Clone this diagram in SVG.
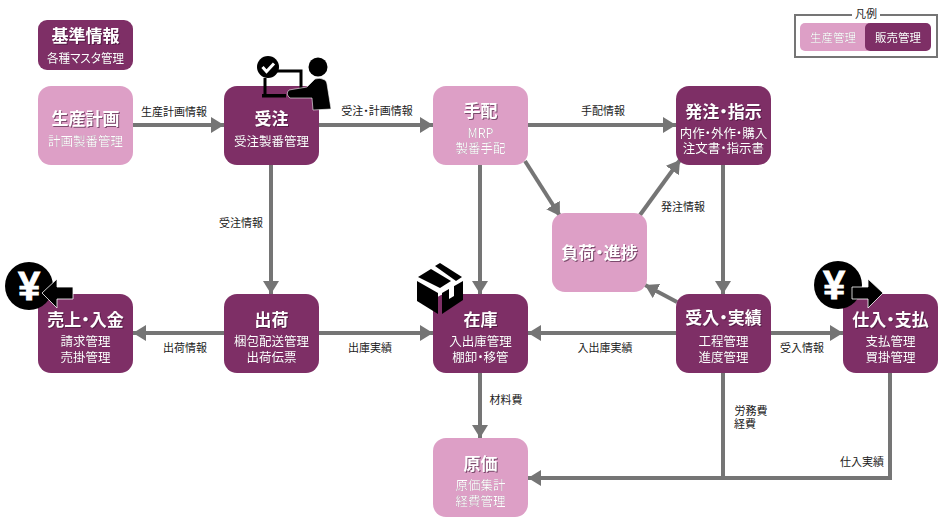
<svg xmlns="http://www.w3.org/2000/svg" width="945" height="525" viewBox="0 0 945 525">
<style>
text{font-family:"Noto Sans CJK JP","Noto Sans",sans-serif;font-feature-settings:"palt";text-anchor:middle}
.d{fill:#7e2f66}.l{fill:#dd9fc6}
.t{font-size:17px;font-weight:700;fill:#fff;filter:drop-shadow(1px 1px .6px rgba(60,20,50,.6))}
.s{font-size:12.500px;fill:#fff;filter:drop-shadow(.7px .7px .5px rgba(60,20,50,.55))}
.c{font-size:11px;fill:#222}
.y{font-family:"Liberation Sans",sans-serif;font-size:40px;font-weight:700;fill:#fff;stroke:#fff;stroke-width:.8;font-feature-settings:normal}
.ln{fill:none;stroke:#757575;stroke-width:4}
</style>
<defs>
<marker id="a" markerUnits="userSpaceOnUse" markerWidth="14" markerHeight="16" refX="13" refY="8" orient="auto"><path d="M0 0L13 8L0 16z" fill="#757575"/></marker>
</defs>
<rect width="945" height="525" fill="#fff"/>
<g id="connectors">
<path class="ln" marker-end="url(#a)" d="M133 125H224"/>
<path class="ln" marker-end="url(#a)" d="M319 125H433"/>
<path class="ln" marker-end="url(#a)" d="M528 125H676"/>
<path class="ln" marker-end="url(#a)" d="M271 165V294"/>
<path class="ln" marker-end="url(#a)" d="M480 165V294"/>
<path class="ln" marker-end="url(#a)" d="M525 161L560 216"/>
<path class="ln" marker-end="url(#a)" d="M640 215L680 160"/>
<path class="ln" marker-end="url(#a)" d="M723 165V294"/>
<path class="ln" marker-end="url(#a)" d="M677 302L645 285"/>
<path class="ln" marker-end="url(#a)" d="M676 333H528"/>
<path class="ln" marker-end="url(#a)" d="M771 333H843"/>
<path class="ln" marker-end="url(#a)" d="M224 333H133"/>
<path class="ln" marker-end="url(#a)" d="M319 333H433"/>
<path class="ln" marker-end="url(#a)" d="M480 373V438"/>
<path class="ln" marker-end="url(#a)" d="M890 373V478H528"/>
<path class="ln" d="M723 373V478"/>
<text class="c" x="174" y="116">生産計画情報</text>
<text class="c" x="377" y="115">受注・計画情報</text>
<text class="c" x="603" y="115">手配情報</text>
<text class="c" x="241" y="227">受注情報</text>
<text class="c" x="683" y="211">発注情報</text>
<text class="c" x="185" y="352">出荷情報</text>
<text class="c" x="370" y="352">出庫実績</text>
<text class="c" x="605" y="352">入出庫実績</text>
<text class="c" x="802" y="352">受入情報</text>
<text class="c" x="506" y="404">材料費</text>
<text class="c" x="751" y="415">労務費</text>
<text class="c" x="745" y="428">経費</text>
<text class="c" x="862" y="466">仕入実績</text>
</g>
<g id="kijun"><rect class="d" x="38" y="20" width="95" height="50" rx="9"/><text class="t" x="85.500" y="42">基準情報</text><text class="s" x="85.500" y="63" textLength="77" lengthAdjust="spacingAndGlyphs">各種マスタ管理</text></g>
<g id="seisan"><rect class="l" x="38" y="86" width="95" height="79" rx="13"/><text class="t" x="85.500" y="125">生産計画</text><text class="s" x="85.500" y="146">計画製番管理</text></g>
<g id="juchu"><rect class="d" x="224" y="86" width="95" height="79" rx="13"/><text class="t" x="271.500" y="125">受注</text><text class="s" x="271.500" y="146">受注製番管理</text></g>
<g id="tehai"><rect class="l" x="433" y="86" width="95" height="79" rx="13"/><text class="t" x="480.500" y="117">手配</text><text class="s" x="480.500" y="138">MRP</text><text class="s" x="480.500" y="153">製番手配</text></g>
<g id="hatchu"><rect class="d" x="676" y="86" width="95" height="79" rx="13"/><text class="t" x="723.500" y="118">発注・指示</text><text class="s" x="723.500" y="138">内作・外作・購入</text><text class="s" x="723.500" y="153">注文書・指示書</text></g>
<g id="fuka"><rect class="l" x="552" y="213" width="95" height="79" rx="13"/><text class="t" x="599.500" y="259">負荷・進捗</text></g>
<g id="uriage"><rect class="d" x="38" y="294" width="95" height="79" rx="13"/><text class="t" x="85.500" y="326">売上・入金</text><text class="s" x="85.500" y="346">請求管理</text><text class="s" x="85.500" y="362">売掛管理</text></g>
<g id="shukka"><rect class="d" x="224" y="294" width="95" height="79" rx="13"/><text class="t" x="271.500" y="326">出荷</text><text class="s" x="271.500" y="346">梱包配送管理</text><text class="s" x="271.500" y="362">出荷伝票</text></g>
<g id="zaiko"><rect class="d" x="433" y="294" width="95" height="79" rx="13"/><text class="t" x="480.500" y="326">在庫</text><text class="s" x="480.500" y="346">入出庫管理</text><text class="s" x="480.500" y="362">棚卸・移管</text></g>
<g id="ukeire"><rect class="d" x="676" y="294" width="95" height="79" rx="13"/><text class="t" x="723.500" y="324">受入・実績</text><text class="s" x="723.500" y="346">工程管理</text><text class="s" x="723.500" y="362">進度管理</text></g>
<g id="shiire"><rect class="d" x="843" y="294" width="95" height="79" rx="13"/><text class="t" x="890.500" y="326">仕入・支払</text><text class="s" x="890.500" y="346">支払管理</text><text class="s" x="890.500" y="362">買掛管理</text></g>
<g id="genka"><rect class="l" x="433" y="438" width="95" height="79" rx="13"/><text class="t" x="480.500" y="470">原価</text><text class="s" x="480.500" y="490">原価集計</text><text class="s" x="480.500" y="506">経費管理</text></g>
<g id="legend">
<rect x="795" y="15" width="142" height="42" fill="none" stroke="#757575" stroke-width="2"/>
<rect x="852" y="8" width="28" height="12" fill="#fff"/>
<text x="866" y="18" style="font-size:11px;fill:#222">凡例</text>
<rect class="l" x="800" y="23" width="72" height="28" rx="5"/>
<rect class="d" x="865" y="23" width="66" height="28" rx="5"/>
<text class="s" x="833" y="42" style="font-size:11.500px">生産管理</text>
<text class="s" x="898" y="42" style="font-size:11.500px">販売管理</text>
</g>
<g id="icon-order">
<path d="M265 78V94M268 71H301V89" fill="none" stroke="#000" stroke-width="3"/>
<rect x="262" y="94" width="24" height="3.500" fill="#000"/>
<circle cx="268" cy="67" r="11" fill="#000"/>
<path d="M262.500 67L266.500 71.500L274 63.500" fill="none" stroke="#fff" stroke-width="3"/>
<circle cx="318" cy="67" r="9.500" fill="#000"/>
<path d="M289 90L307 87L315 79Q320 77 325 80Q327 82 327 84L331 109L313 110L312 98L290 98Q285 94 289 90z" fill="#000" stroke="#fff" stroke-width=".6"/>
</g>
<g id="icon-yen-in">
<circle cx="29" cy="286" r="24" fill="#000"/>
<text class="y" x="29" y="300">¥</text>
<path d="M42 293L57 279V287H73V299H57V308z" fill="#000" stroke="#fff" stroke-width=".8"/>
</g>
<g id="icon-yen-out">
<circle cx="838" cy="285" r="24" fill="#000"/>
<text class="y" x="834" y="299">¥</text>
<path d="M852 287H868V279L883 293L868 308V299H852z" fill="#000" stroke="#fff" stroke-width=".8"/>
</g>
<g id="icon-box">
<path d="M417 281L438 293V314L417 301z" fill="#000"/>
<path d="M442 293L463 281V300L442 314z" fill="#000"/>
<path d="M418 277L431 269L451 281L440 288z" fill="#000"/>
<path d="M435 266L440 263L462 277L456 281z" fill="#000"/>
<path d="M449 286L454 283V296L449 299z" fill="#fff"/>
</g>
</svg>
